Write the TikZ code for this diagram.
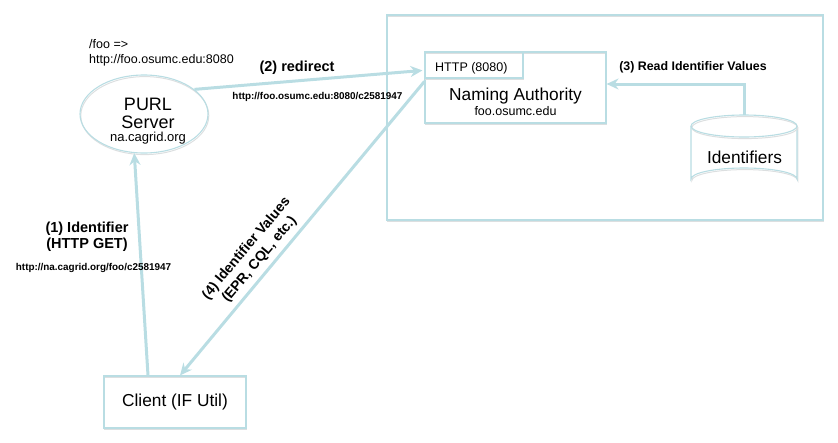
\documentclass[tikz,border=0pt]{standalone}
\usepackage{fontspec}
\setmainfont{Liberation Sans}
\usetikzlibrary{arrows.meta,calc,shapes.geometric}
\definecolor{lc}{HTML}{B9DDE3}
\definecolor{shc}{HTML}{DCDFE0}
\begin{document}
\begin{tikzpicture}[x=1pt,y=-1pt,
  shad/.style={preaction={draw=shc,line width=1pt,transform canvas={shift={(0.8pt,-1.6pt)}}}},
  box/.style={draw=lc,line width=1.1pt,inner sep=0pt,shad},
  conn/.style={draw=lc,line width=3pt,-{Stealth[length=12pt,width=11pt]}},
  txt/.style={inner sep=0pt,anchor=base},
  big/.style={font=\fontsize{17.3}{20}\selectfont},
  mid/.style={font=\fontsize{12.5}{15}\selectfont},
  lbl/.style={font=\bfseries\fontsize{14.5}{16}\selectfont},
  url/.style={font=\bfseries\fontsize{9.9}{12}\selectfont}]
\path[use as bounding box] (0,0) rectangle (838,442);
% outer area
\node[box,minimum width=436,minimum height=205] (area) at (605,117.5) {};
% naming authority
\node[box,minimum width=181,minimum height=71] (na) at (515.5,87.5) {};
\node[box,minimum width=98,minimum height=26] (tab) at (474,65) {};
\node[txt,mid,anchor=base west] (http) at (435,71) {HTTP (8080)};
\node[txt,big] (natxt) at (515.5,100) {Naming Authority};
\node[txt,mid] (nahost) at (515.5,115) {foo.osumc.edu};
% cylinder
\coordinate (idtop) at (744,115);
\draw[draw=lc,line width=1.1pt,fill=white,shad] (691,126) -- (691,179) arc[start angle=180,end angle=360,x radius=53,y radius=11] -- (797,126);
\draw[draw=lc,line width=1.1pt,shad] (744,126) ellipse[x radius=53,y radius=11];
\node[txt,big] (ids) at (744.5,163) {Identifiers};
% PURL server
\node[draw=lc,line width=1.1pt,shad,ellipse,minimum width=128,minimum height=78,inner sep=0pt] (purl) at (144,114) {};
\node[txt,font=\fontsize{18}{20}\selectfont] (purl1) at (148,110) {PURL};
\node[txt,font=\fontsize{18}{20}\selectfont] (purl2) at (148,128) {Server};
\node[txt,font=\fontsize{13}{15}\selectfont] (purl3) at (148,141) {na.cagrid.org};
\node[txt,mid,anchor=base west] (map1) at (89,48) {/foo =>};
\node[txt,mid,anchor=base west] (map2) at (89,63) {http://foo.osumc.edu:8080};
% client
\node[box,minimum width=142,minimum height=52] (client) at (175,402) {};
\node[txt,big] (clienttxt) at (175,406) {Client (IF Util)};
% connectors
\draw[conn] ($(client.north)+(-27,0)$) -- (purl.256);
\draw[conn] (purl.26) -- ($(na.north west)+(-2,19)$);
\draw[conn] (idtop) |- (na.east |- 0,84);
\draw[conn] ($(na.north west)+(0,30)$) -- ($(client.north)+(5,0)$);
% labels
\node[txt,lbl] (l1a) at (87,232) {(1) Identifier};
\node[txt,lbl] (l1b) at (87,248) {(HTTP GET)};
\node[txt,url] (l1c) at (93.5,270) {http://na.cagrid.org/foo/c2581947};
\node[txt,lbl] (l2a) at (297,71) {(2) redirect};
\node[txt,url] (l2b) at (317.5,99) {http://foo.osumc.edu:8080/c2581947};
\node[txt,font=\bfseries\fontsize{12.4}{14}\selectfont] (l3) at (693,70) {(3) Read Identifier Values};
\node[rotate=50,align=center,inner sep=0pt,font=\bfseries\fontsize{14}{17}\selectfont] (l4) at (253,254) {(4) Identifier Values\\(EPR, CQL, etc.)};
\end{tikzpicture}
\end{document}
